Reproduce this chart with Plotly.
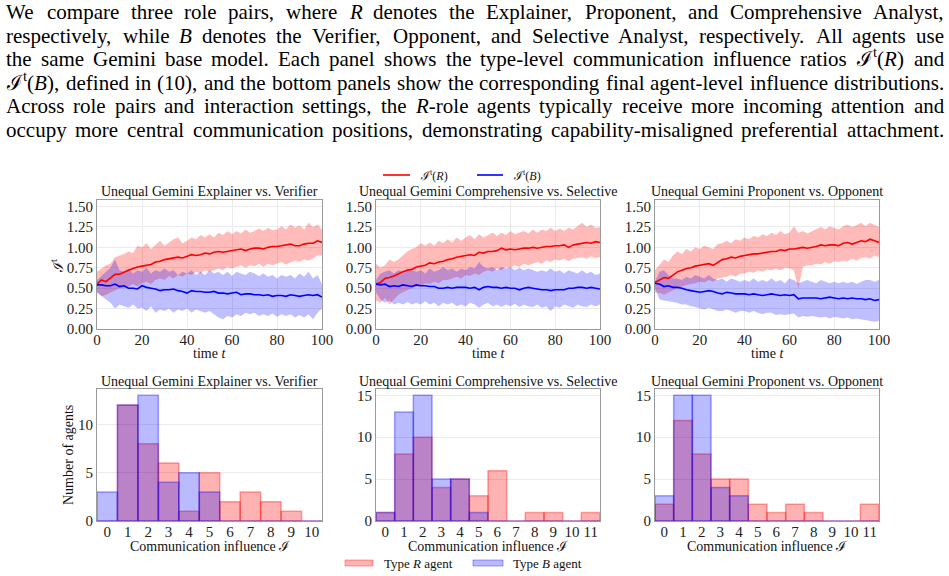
import re
import plotly.graph_objects as go

# ---------------- data ----------------
t_steps = list(range(0, 101, 2))

# Panel 1: Explainer vs Verifier
r1_mean = [0.55,0.60,0.58,0.63,0.67,0.67,0.70,0.72,0.74,0.76,0.77,0.78,0.79,0.82,0.83,0.85,0.86,0.87,0.88,0.87,0.89,0.91,0.90,0.91,0.93,0.92,0.94,0.95,0.94,0.95,0.96,0.97,0.98,0.96,0.98,0.99,0.99,0.98,1.00,1.01,1.01,1.02,1.03,1.04,1.02,1.02,1.04,1.05,1.05,1.08,1.06]
r1_up = [0.70,0.74,0.78,0.80,0.88,0.90,0.92,0.95,0.93,1.02,1.00,1.05,0.98,1.03,1.08,1.02,1.06,1.10,1.12,1.05,1.08,1.12,1.10,1.15,1.12,1.16,1.12,1.18,1.15,1.20,1.16,1.20,1.17,1.22,1.18,1.20,1.23,1.20,1.24,1.21,1.22,1.26,1.22,1.28,1.24,1.27,1.22,1.30,1.25,1.28,1.22]
r1_lo = [0.45,0.40,0.42,0.45,0.48,0.50,0.50,0.52,0.55,0.52,0.56,0.58,0.55,0.60,0.62,0.60,0.65,0.62,0.66,0.64,0.68,0.66,0.70,0.68,0.72,0.70,0.72,0.74,0.72,0.76,0.74,0.76,0.78,0.75,0.78,0.77,0.80,0.76,0.80,0.78,0.80,0.82,0.79,0.82,0.84,0.82,0.85,0.84,0.86,0.90,0.90]
b1_mean = [0.54,0.54,0.53,0.53,0.55,0.52,0.53,0.50,0.50,0.49,0.53,0.51,0.50,0.49,0.47,0.48,0.48,0.49,0.47,0.46,0.44,0.47,0.46,0.46,0.45,0.45,0.46,0.44,0.44,0.43,0.44,0.45,0.42,0.43,0.43,0.42,0.42,0.41,0.42,0.40,0.41,0.41,0.40,0.42,0.41,0.40,0.41,0.42,0.41,0.42,0.39]
b1_up = [0.60,0.65,0.70,0.75,0.85,0.72,0.70,0.74,0.68,0.72,0.70,0.75,0.68,0.72,0.70,0.74,0.70,0.72,0.66,0.70,0.68,0.72,0.66,0.70,0.66,0.72,0.68,0.70,0.66,0.70,0.65,0.70,0.68,0.66,0.70,0.68,0.65,0.68,0.64,0.66,0.62,0.66,0.64,0.66,0.62,0.68,0.64,0.70,0.62,0.66,0.55]
b1_lo = [0.45,0.40,0.36,0.32,0.25,0.30,0.28,0.26,0.30,0.25,0.26,0.22,0.28,0.20,0.24,0.22,0.25,0.20,0.24,0.22,0.25,0.20,0.24,0.22,0.20,0.22,0.18,0.14,0.12,0.16,0.14,0.18,0.16,0.20,0.18,0.20,0.16,0.18,0.16,0.19,0.15,0.18,0.16,0.18,0.14,0.17,0.14,0.18,0.12,0.20,0.25]

# Panel 2: Comprehensive vs Selective
r2_mean = [0.55,0.57,0.62,0.63,0.65,0.68,0.70,0.72,0.73,0.76,0.77,0.78,0.81,0.80,0.82,0.83,0.85,0.86,0.88,0.89,0.90,0.91,0.90,0.94,0.93,0.95,0.95,0.96,0.99,0.97,0.98,0.97,0.98,0.99,0.99,1.00,0.99,1.00,1.01,1.01,1.02,1.02,1.03,1.00,1.03,1.04,1.05,1.06,1.05,1.07,1.06]
r2_up = [0.80,0.75,0.78,0.85,0.82,0.85,0.90,0.95,0.98,1.00,1.05,1.02,1.06,1.02,1.08,1.05,1.10,1.06,1.12,1.08,1.12,1.15,1.10,1.16,1.12,1.15,1.18,1.14,1.18,1.15,1.20,1.16,1.18,1.20,1.17,1.22,1.18,1.22,1.20,1.24,1.20,1.23,1.20,1.24,1.22,1.26,1.30,1.25,1.28,1.24,1.25]
r2_lo = [0.35,0.32,0.38,0.30,0.36,0.42,0.45,0.48,0.50,0.52,0.52,0.56,0.55,0.58,0.56,0.60,0.60,0.62,0.64,0.62,0.66,0.65,0.68,0.66,0.70,0.72,0.70,0.74,0.72,0.76,0.75,0.78,0.76,0.80,0.78,0.80,0.82,0.80,0.84,0.82,0.85,0.84,0.86,0.83,0.86,0.87,0.88,0.86,0.89,0.87,0.88]
b2_mean = [0.55,0.54,0.55,0.52,0.53,0.52,0.54,0.53,0.52,0.54,0.53,0.53,0.52,0.52,0.50,0.50,0.51,0.50,0.51,0.51,0.51,0.50,0.51,0.48,0.51,0.52,0.51,0.51,0.50,0.51,0.50,0.50,0.48,0.50,0.51,0.50,0.49,0.48,0.48,0.47,0.48,0.48,0.48,0.50,0.50,0.51,0.51,0.50,0.51,0.50,0.49]
b2_up = [0.60,0.68,0.70,0.72,0.68,0.72,0.70,0.74,0.72,0.70,0.72,0.68,0.74,0.70,0.72,0.76,0.72,0.74,0.70,0.74,0.72,0.76,0.74,0.82,0.76,0.74,0.76,0.72,0.76,0.74,0.76,0.72,0.75,0.72,0.74,0.72,0.70,0.72,0.70,0.74,0.70,0.72,0.68,0.72,0.70,0.68,0.72,0.68,0.70,0.66,0.68]
b2_lo = [0.45,0.36,0.32,0.35,0.30,0.32,0.30,0.33,0.30,0.32,0.30,0.34,0.30,0.32,0.28,0.32,0.30,0.32,0.28,0.30,0.28,0.32,0.30,0.26,0.30,0.32,0.28,0.30,0.27,0.30,0.28,0.31,0.27,0.30,0.28,0.27,0.30,0.26,0.28,0.22,0.28,0.26,0.30,0.28,0.26,0.30,0.28,0.27,0.30,0.28,0.30]

# Panel 3: Proponent vs Opponent
r3_mean = [0.57,0.60,0.63,0.62,0.66,0.70,0.72,0.74,0.75,0.77,0.78,0.79,0.80,0.78,0.82,0.85,0.86,0.88,0.87,0.89,0.90,0.91,0.92,0.92,0.93,0.94,0.95,0.95,0.97,0.96,0.98,0.98,0.99,1.00,0.99,1.00,1.01,1.03,1.02,1.03,1.03,1.02,1.05,1.06,1.04,1.06,1.08,1.07,1.10,1.08,1.06]
r3_up = [0.72,0.78,0.85,0.82,0.90,0.95,0.92,0.98,0.95,1.00,0.98,1.02,1.00,0.98,1.04,1.05,1.08,1.05,1.10,1.08,1.12,1.10,1.14,1.12,1.16,1.14,1.18,1.15,1.20,1.16,1.18,1.26,1.18,1.20,1.17,1.20,1.22,1.25,1.22,1.26,1.24,1.22,1.26,1.28,1.25,1.27,1.30,1.26,1.30,1.27,1.25]
r3_lo = [0.45,0.44,0.42,0.45,0.48,0.50,0.52,0.54,0.55,0.56,0.58,0.57,0.60,0.58,0.62,0.63,0.64,0.66,0.64,0.68,0.68,0.70,0.69,0.72,0.70,0.73,0.72,0.74,0.72,0.75,0.74,0.72,0.50,0.76,0.78,0.78,0.80,0.79,0.82,0.80,0.83,0.82,0.84,0.83,0.86,0.84,0.87,0.88,0.86,0.90,0.88]
b3_mean = [0.56,0.55,0.52,0.53,0.51,0.51,0.50,0.48,0.47,0.46,0.45,0.46,0.47,0.46,0.44,0.43,0.45,0.44,0.43,0.43,0.43,0.42,0.43,0.42,0.41,0.42,0.43,0.42,0.41,0.42,0.41,0.42,0.37,0.38,0.38,0.38,0.38,0.37,0.38,0.39,0.38,0.37,0.38,0.37,0.38,0.37,0.37,0.36,0.37,0.35,0.36]
b3_up = [0.58,0.70,0.72,0.66,0.62,0.62,0.60,0.64,0.62,0.66,0.64,0.62,0.66,0.62,0.60,0.62,0.58,0.62,0.60,0.58,0.60,0.58,0.62,0.58,0.60,0.58,0.62,0.58,0.60,0.56,0.62,0.60,0.56,0.58,0.60,0.58,0.56,0.60,0.58,0.56,0.58,0.56,0.58,0.56,0.58,0.55,0.58,0.60,0.60,0.58,0.60]
b3_lo = [0.50,0.36,0.35,0.34,0.33,0.32,0.30,0.30,0.28,0.27,0.25,0.24,0.26,0.24,0.22,0.22,0.24,0.22,0.20,0.22,0.22,0.20,0.22,0.20,0.18,0.20,0.20,0.17,0.18,0.17,0.18,0.19,0.14,0.16,0.15,0.16,0.15,0.14,0.15,0.13,0.15,0.14,0.13,0.14,0.12,0.13,0.12,0.11,0.10,0.09,0.10]

# Histograms (counts per influence value)
h1_bins = list(range(0, 11))
h1_R = [0, 12, 8, 6, 1, 5, 2, 3, 2, 1, 0]
h1_B = [3, 12, 13, 4, 5, 3, 0, 0, 0, 0, 0]
h2_bins = list(range(0, 12))
h2_R = [1, 8, 10, 4, 5, 3, 6, 0, 1, 1, 0, 1]
h2_B = [1, 13, 15, 5, 5, 1, 0, 0, 0, 0, 0, 0]
h3_bins = list(range(0, 12))
h3_R = [2, 12, 8, 5, 5, 2, 1, 2, 1, 0, 0, 2]
h3_B = [3, 15, 15, 4, 3, 0, 0, 0, 0, 0, 0, 0]

titles = ["Unequal Gemini Explainer vs. Verifier",
          "Unequal Gemini Comprehensive vs. Selective",
          "Unequal Gemini Proponent vs. Opponent"]

paragraph = [
    "We compare three role pairs, where <i>R</i> denotes the Explainer, Proponent, and Comprehensive Analyst,",
    "respectively, while <i>B</i> denotes the Verifier, Opponent, and Selective Analyst, respectively. All agents use",
    "the same Gemini base model. Each panel shows the type-level communication influence ratios ℐ<sup>t</sup>(<i>R</i>) and",
    "ℐ<sup>t</sup>(<i>B</i>), defined in (10), and the bottom panels show the corresponding final agent-level influence distributions.",
    "Across role pairs and interaction settings, the <i>R</i>-role agents typically receive more incoming attention and",
    "occupy more central communication positions, demonstrating capability-misaligned preferential attachment.",
]

# ---------------- figure ----------------
W, H = 949, 576
FONT = "Liberation Serif"
RED = "rgb(255,0,0)"
BLUE = "rgb(0,0,255)"
RED_BAND = "rgba(255,0,0,0.27)"
BLUE_BAND = "rgba(0,0,255,0.25)"
RED_BAR = "rgba(255,0,0,0.3)"
BLUE_BAR = "rgba(0,0,255,0.27)"

def px_x(p):
    return p / W

def px_y(p):
    return 1 - p / H

fig = go.Figure()

top_sets = [(r1_mean, r1_up, r1_lo, b1_mean, b1_up, b1_lo),
            (r2_mean, r2_up, r2_lo, b2_mean, b2_up, b2_lo),
            (r3_mean, r3_up, r3_lo, b3_mean, b3_up, b3_lo)]

for i, (rm, ru, rl, bm, bu, bl) in enumerate(top_sets):
    xa = "x" if i == 0 else f"x{i+1}"
    ya = "y" if i == 0 else f"y{i+1}"
    for up, lo, col in [(ru, rl, RED_BAND), (bu, bl, BLUE_BAND)]:
        fig.add_trace(go.Scatter(x=t_steps, y=up, mode="lines", line=dict(width=0),
                                 showlegend=False, hoverinfo="skip", xaxis=xa, yaxis=ya))
        fig.add_trace(go.Scatter(x=t_steps, y=lo, mode="lines", line=dict(width=0),
                                 fill="tonexty", fillcolor=col, showlegend=False,
                                 hoverinfo="skip", xaxis=xa, yaxis=ya))
    fig.add_trace(go.Scatter(x=t_steps, y=rm, mode="lines", line=dict(color=RED, width=1.6),
                             showlegend=False, xaxis=xa, yaxis=ya))
    fig.add_trace(go.Scatter(x=t_steps, y=bm, mode="lines", line=dict(color=BLUE, width=1.6),
                             showlegend=False, xaxis=xa, yaxis=ya))

hist_sets = [(h1_bins, h1_R, h1_B), (h2_bins, h2_R, h2_B), (h3_bins, h3_R, h3_B)]
for i, (bins, hr, hb) in enumerate(hist_sets):
    xa = f"x{i+4}"
    ya = f"y{i+4}"
    fig.add_trace(go.Bar(x=bins, y=hr, width=1, marker=dict(color=RED_BAR, line=dict(color="rgba(255,0,0,0.35)", width=1.5)),
                         showlegend=False, xaxis=xa, yaxis=ya))
    fig.add_trace(go.Bar(x=bins, y=hb, width=1, marker=dict(color=BLUE_BAR, line=dict(color="rgba(0,0,255,0.35)", width=1.5)),
                         showlegend=False, xaxis=xa, yaxis=ya))

top_x = [(97, 322), (376, 600), (655, 879)]
top_y = (200, 329)
bot_y = (389, 521)

axis_common = dict(showgrid=True, gridcolor="#ebebeb", gridwidth=1, zeroline=False,
                   showline=True, linecolor="#9a9a9a", linewidth=1, mirror=True,
                   ticks="", automargin=False,
                   tickfont=dict(family=FONT, size=15, color="#222"))

layout = dict(width=W, height=H, margin=dict(l=0, r=0, t=0, b=0, autoexpand=False),
              plot_bgcolor="white", paper_bgcolor="white", barmode="overlay",
              font=dict(family=FONT, color="#111"), showlegend=False)

hist_ranges = [10.5, 11.5, 11.5]
hist_ymax = [13.65, 15.75, 15.75]
for i in range(3):
    sx = "" if i == 0 else str(i + 1)
    x0, x1 = top_x[i]
    layout[f"xaxis{sx}"] = dict(axis_common, domain=[px_x(x0), px_x(x1)], anchor=f"y{sx}",
                                range=[0, 100], tickvals=[0, 20, 40, 60, 80, 100],
                                ticklabelstandoff=-3)
    layout[f"yaxis{sx}"] = dict(axis_common, domain=[px_y(top_y[1]), px_y(top_y[0])], anchor=f"x{sx}",
                                range=[0, 1.58], tickvals=[0, 0.25, 0.5, 0.75, 1.0, 1.25, 1.5],
                                tickformat=".2f")
    j = i + 4
    layout[f"xaxis{j}"] = dict(axis_common, domain=[px_x(x0), px_x(x1)], anchor=f"y{j}",
                               range=[-0.5, hist_ranges[i]], tickvals=hist_sets[i][0], showgrid=False,
                               ticklabelstandoff=-3)
    layout[f"yaxis{j}"] = dict(axis_common, domain=[px_y(bot_y[1]), px_y(bot_y[0])], anchor=f"x{j}",
                               range=[0, hist_ymax[i]], tickvals=[0, 5, 10, 15])

fig.update_layout(**layout)

ann = []
# subplot titles and axis titles
for i in range(3):
    cx = (top_x[i][0] + top_x[i][1]) / 2
    ann.append(dict(x=px_x(cx), y=px_y(191), xref="paper", yref="paper", text=titles[i],
                    showarrow=False, font=dict(family=FONT, size=14, color="#111"),
                    xanchor="center", yanchor="middle"))
    ann.append(dict(x=px_x(cx), y=px_y(381), xref="paper", yref="paper", text=titles[i],
                    showarrow=False, font=dict(family=FONT, size=14, color="#111"),
                    xanchor="center", yanchor="middle"))
    ann.append(dict(x=px_x(cx), y=px_y(353), xref="paper", yref="paper", text="time <i>t</i>",
                    showarrow=False, font=dict(family=FONT, size=14, color="#111"),
                    xanchor="center", yanchor="middle"))
    ann.append(dict(x=px_x(cx), y=px_y(546), xref="paper", yref="paper", text="Communication influence ℐ",
                    showarrow=False, font=dict(family=FONT, size=14, color="#111"),
                    xanchor="center", yanchor="middle"))

ann.append(dict(x=px_x(57), y=px_y(266), xref="paper", yref="paper", text="ℐ<sup>t</sup>",
                showarrow=False, textangle=-90, font=dict(family=FONT, size=14, color="#111"),
                xanchor="center", yanchor="middle"))
ann.append(dict(x=px_x(68), y=px_y(455), xref="paper", yref="paper", text="Number of agents",
                showarrow=False, textangle=-90, font=dict(family=FONT, size=14, color="#111"),
                xanchor="center", yanchor="middle"))

# ---- paragraph text, justified word by word (Times metrics, 1/1000 em) ----
ROMAN = dict(zip("abcdefghijklmnopqrstuvwxyz",
                 [444,500,444,500,444,333,500,500,278,278,500,278,778,500,500,500,500,333,389,278,500,500,722,500,500,444]))
ROMAN.update(dict(zip("ABCDEFGHIJKLMNOPQRSTUVWXYZ",
                      [722,667,667,722,611,556,722,722,333,389,722,611,889,722,722,556,722,667,556,611,722,722,944,722,722,611])))
ROMAN.update({".": 250, ",": 250, "(": 333, ")": 333, "-": 333, "ℐ": 840})
ROMAN.update({d: 500 for d in "0123456789"})
ITALIC = {"R": 611, "B": 611, "t": 278}

def word_width(word, size):
    total = 0.0
    italic = False
    scale = 1.0
    for tok in re.split(r"(<[^>]+>)", word):
        if tok.startswith("<"):
            tag = tok.strip("<>/")
            opening = not tok.startswith("</")
            if tag == "i":
                italic = opening
            elif tag == "sup":
                scale = 0.7 if opening else 1.0
            continue
        for ch in tok:
            w = ITALIC.get(ch, ROMAN.get(ch, 500)) if italic else ROMAN.get(ch, 500)
            total += w / 1000 * size * scale
    return total

PSIZE = 21
LEFT, RIGHT = 5, 943
line_base = [20, 44, 67, 91, 114, 138]
for txt, base in zip(paragraph, line_base):
    words = txt.split()
    widths = [word_width(w, PSIZE) for w in words]
    gap = (RIGHT - LEFT - sum(widths)) / (len(words) - 1)
    xpos = LEFT
    for w, wd in zip(words, widths):
        ann.append(dict(x=px_x(xpos), y=px_y(base + 5), xref="paper", yref="paper", text=w,
                        showarrow=False, font=dict(family=FONT, size=PSIZE, color="#000"),
                        xanchor="left", yanchor="bottom", borderpad=0))
        xpos += wd + gap

# top legend (lines)
shapes = []
shapes.append(dict(type="line", xref="paper", yref="paper", x0=px_x(383), x1=px_x(410),
                   y0=px_y(175), y1=px_y(175), line=dict(color=RED, width=1.6)))
shapes.append(dict(type="line", xref="paper", yref="paper", x0=px_x(477), x1=px_x(503),
                   y0=px_y(175), y1=px_y(175), line=dict(color=BLUE, width=1.6)))
ann.append(dict(x=px_x(418), y=px_y(175), xref="paper", yref="paper", text="ℐ<sup>t</sup>(<i>R</i>)",
                showarrow=False, font=dict(family=FONT, size=12), xanchor="left", yanchor="middle"))
ann.append(dict(x=px_x(511), y=px_y(175), xref="paper", yref="paper", text="ℐ<sup>t</sup>(<i>B</i>)",
                showarrow=False, font=dict(family=FONT, size=12), xanchor="left", yanchor="middle"))

# bottom legend (patches)
shapes.append(dict(type="rect", xref="paper", yref="paper", x0=px_x(345), x1=px_x(373),
                   y0=px_y(566), y1=px_y(560), fillcolor=RED_BAR, line=dict(color="rgba(255,0,0,0.35)", width=1)))
shapes.append(dict(type="rect", xref="paper", yref="paper", x0=px_x(473), x1=px_x(503),
                   y0=px_y(566), y1=px_y(560), fillcolor=BLUE_BAR, line=dict(color="rgba(0,0,255,0.35)", width=1)))
ann.append(dict(x=px_x(382), y=px_y(563), xref="paper", yref="paper", text="Type <i>R</i> agent",
                showarrow=False, font=dict(family=FONT, size=13), xanchor="left", yanchor="middle"))
ann.append(dict(x=px_x(511), y=px_y(563), xref="paper", yref="paper", text="Type <i>B</i> agent",
                showarrow=False, font=dict(family=FONT, size=13), xanchor="left", yanchor="middle"))

fig.update_layout(annotations=ann, shapes=shapes)
fig.write_html("out.html")
